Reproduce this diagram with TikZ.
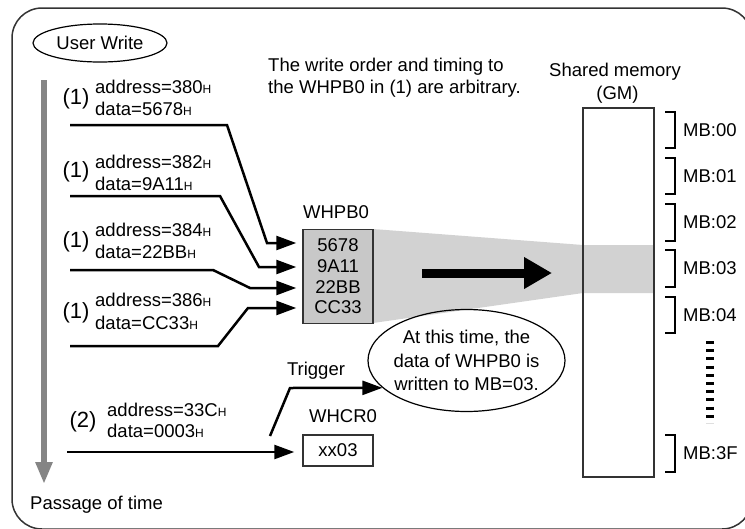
\documentclass[tikz,border=0pt]{standalone}
\usepackage{fontspec}
\setmainfont{Liberation Sans}
\usetikzlibrary{arrows.meta,shapes.geometric}
\definecolor{boxgray}{HTML}{C8C8C8}
\definecolor{bandgray}{HTML}{D2D2D2}
\definecolor{timegray}{HTML}{858585}
\definecolor{framecol}{HTML}{333333}
\newcommand\subH{{\fontsize{12}{12}\selectfont H}}
\begin{document}
\begin{tikzpicture}[x=1pt,y=-1pt,
  every node/.style={font=\fontsize{18.5}{22}\selectfont, inner sep=0pt},
  conn/.style={line width=2.5pt, -{Triangle[length=20pt,width=14pt]}},
  lbl/.style={anchor=west},
  num/.style={font=\fontsize{22}{22}\selectfont},
  regbox/.style={draw=black!80, line width=1.5pt, minimum width=70pt},
  brk/.style={line width=2.5pt},
  mblbl/.style={anchor=west}
]
\useasboundingbox (0,0) rectangle (745,528);
% outer frame
\draw[framecol, line width=1.5pt, rounded corners=30pt] (12,8) rectangle (752,529);

% title ellipse
\node[draw, ellipse, line width=1.2pt, minimum width=134pt, minimum height=38pt] (uw) at (100,43) {User Write};

% time arrow
\coordinate (tA) at (44,80);
\coordinate (tB) at (44,484);
\draw[timegray, line width=6pt, -{Triangle[length=22pt,width=16pt]}] (tA) -- (tB);
\node[anchor=base west] (pt) at (30,509) {Passage of time};

% note
\node[anchor=base west] (note1) at (268,71.5) {The write order and timing to};
\node[anchor=base west] (note2) at (268,93.5) {the WHPB0 in (1) are arbitrary.};

% gray band
\path[fill=bandgray] (373,229) -- (583,245) -- (654,245) -- (654,293) -- (583,293) -- (373,323) -- cycle;

% WHPB0
\node (wbl) at (336,212.5) {WHPB0};
\node[regbox, fill=boxgray, minimum height=94pt, align=center, font=\fontsize{18.5}{20.7}\selectfont] (wb) at (338,276.5) {5678\\9A11\\22BB\\CC33};

% group labels
\node[num] (n1) at (76,99) {(1)};
\node[lbl] (a1) at (95,87) {address=380\subH};
\node[lbl] (d1) at (95,109) {data=5678\subH};
\node[num] (n2) at (76,172) {(1)};
\node[lbl] (a2) at (95,162) {address=382\subH};
\node[lbl] (d2) at (95,184) {data=9A11\subH};
\node[num] (n3) at (76,242) {(1)};
\node[lbl] (a3) at (95,230) {address=384\subH};
\node[lbl] (d3) at (95,252) {data=22BB\subH};
\node[num] (n4) at (76,313) {(1)};
\node[lbl] (a4) at (95,300) {address=386\subH};
\node[lbl] (d4) at (95,323) {data=CC33\subH};
\node[num] (n5) at (83,422) {(2)};
\node[lbl] (a5) at (107,410) {address=33C\subH};
\node[lbl] (d5) at (107,431) {data=0003\subH};

% connectors to WHPB0
\coordinate (s1) at (70,125); \coordinate (k1) at (227,125); \coordinate (m1) at (267,243); \coordinate (e1) at ([xshift=-6pt]wb.west |- 0,243);
\coordinate (s2) at (70,196); \coordinate (k2) at (220,196); \coordinate (m2) at (259,267); \coordinate (e2) at ([xshift=-6pt]wb.west |- 0,267);
\coordinate (s3) at (70,270); \coordinate (k3) at (213,270); \coordinate (m3) at (250,288); \coordinate (e3) at ([xshift=-6pt]wb.west |- 0,288);
\coordinate (s4) at (70,346); \coordinate (k4) at (218,346); \coordinate (m4) at (248,308); \coordinate (e4) at ([xshift=-6pt]wb.west |- 0,308);
\draw[conn] (s1) -- (k1) -- (m1) -- (e1);
\draw[conn] (s2) -- (k2) -- (m2) -- (e2);
\draw[conn] (s3) -- (k3) -- (m3) -- (e3);
\draw[conn] (s4) -- (k4) -- (m4) -- (e4);

% WHCR0
\node (wcl) at (343,416) {WHCR0};
\node[regbox, minimum height=31pt] (wc) at (338,450.5) {xx03};
\coordinate (s5) at (67,452);
\draw[conn] (s5) -- ([xshift=-8pt]wc.west |- s5);

% ellipse note
\node[draw, ellipse, line width=1.2pt, minimum width=197pt, minimum height=102pt] (ell) at (466.5,360.5) {};
\node[align=center, font=\fontsize{18.5}{23.5}\selectfont] (ellt) at (ell.center) {At this time, the\\data of WHPB0 is\\written to MB=03.};

% trigger
\node (trl) at (316,370.5) {Trigger};
\coordinate (trA) at (270,436);
\coordinate (trB) at (290,388);
\draw[conn] (trA) -- (trB) -- (ell.198);

% big arrow
\coordinate (ba1) at (422,273);
\coordinate (ba2) at (552,273);
\draw[line width=9pt, -{Triangle[length=28pt,width=30pt]}] (ba1) -- (ba2);

% shared memory
\node[anchor=base] (sml) at (615,76) {Shared memory};
\node[anchor=base] (gml) at (617.5,99) {(GM)};
\node[draw=black!80, line width=1.5pt, minimum width=71pt, minimum height=369pt] (gm) at (618.5,292.5) {};

% brackets
\foreach \t/\b/\lab/\nm in {112/148/MB:00/mb0, 158/194/MB:01/mb1, 204/241/MB:02/mb2, 250/287/MB:03/mb3, 297/333/MB:04/mb4, 435/472/MB:3F/mb3f}{
  \draw[brk] (665,\t) -- (675,\t) -- (675,\b) -- (665,\b);
  \node[mblbl] (\nm) at (683,{(\t+\b)/2}) {\lab};
}
\draw[line width=8pt, dash pattern=on 3pt off 5.2pt] (710,341) -- (710,423);
\end{tikzpicture}
\end{document}
